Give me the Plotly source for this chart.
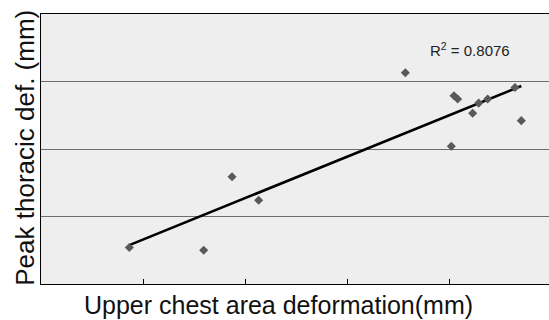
import numpy as np
import plotly.graph_objects as go

# Data
upper_chest_def = [8.66, 15.95, 18.73, 21.34, 35.72, 40.23, 40.49, 40.85, 42.32, 42.91, 43.79, 46.47, 47.09]
peak_thoracic_def = [0.54, 0.50, 1.59, 1.24, 3.13, 2.04, 2.79, 2.74, 2.53, 2.68, 2.74, 2.91, 2.42]
r2_label = "R<sup>2</sup> = 0.8076"
x_title = "Upper chest area deformation(mm)"
y_title = "Peak thoracic def. (mm)"

x = np.array(upper_chest_def)
y = np.array(peak_thoracic_def)
slope, intercept = np.polyfit(x, y, 1)
trend_x = [x.min(), x.max()]
trend_y = [slope * v + intercept for v in trend_x]

fig = go.Figure()
fig.add_trace(go.Scatter(
    x=trend_x, y=trend_y, mode="lines",
    line=dict(color="black", width=2.6), hoverinfo="skip", showlegend=False))
fig.add_trace(go.Scatter(
    x=upper_chest_def, y=peak_thoracic_def, mode="markers",
    marker=dict(symbol="diamond", size=7, color="#595959"),
    showlegend=False))

fig.add_annotation(x=37.9, y=3.48, xref="x", yref="y", text=r2_label,
                   showarrow=False, xanchor="left", yanchor="middle",
                   font=dict(family="Liberation Sans, Arial", size=15, color="#222222"))

# axis titles placed as annotations for exact positioning
fig.add_annotation(x=0.4675, y=-0.079, xref="paper", yref="paper", text=x_title,
                   showarrow=False, xanchor="center", yanchor="middle",
                   font=dict(family="Liberation Sans, Arial", size=25, color="#111111"))
fig.add_annotation(x=-0.031, y=0.5056, xref="paper", yref="paper", text=y_title,
                   showarrow=False, xanchor="center", yanchor="middle", textangle=-90,
                   font=dict(family="Liberation Sans, Arial", size=26, color="#111111"))

fig.update_layout(
    width=549, height=320,
    margin=dict(l=41, r=0, t=14, b=36),
    paper_bgcolor="white", plot_bgcolor="#eeeeee",
    font=dict(family="Liberation Sans, Arial", color="#111111"),
)
fig.update_xaxes(
    range=[0, 50 * 508 / 510], dtick=10, tick0=0,
    showticklabels=False, ticks="inside", ticklen=5, tickcolor="black",
    showgrid=False, zeroline=False, automargin=False,
    showline=True, linecolor="black", linewidth=1, mirror=True,
)
fig.update_yaxes(
    range=[0, 4], dtick=1, tick0=0,
    showticklabels=False, ticks="", automargin=False,
    showgrid=True, gridcolor="#6e6e6e", gridwidth=1, zeroline=False,
    showline=True, linecolor="black", linewidth=1,
)

fig.write_html("out.html", config={"displayModeBar": False},
               post_script="document.body.style.margin='0';")
